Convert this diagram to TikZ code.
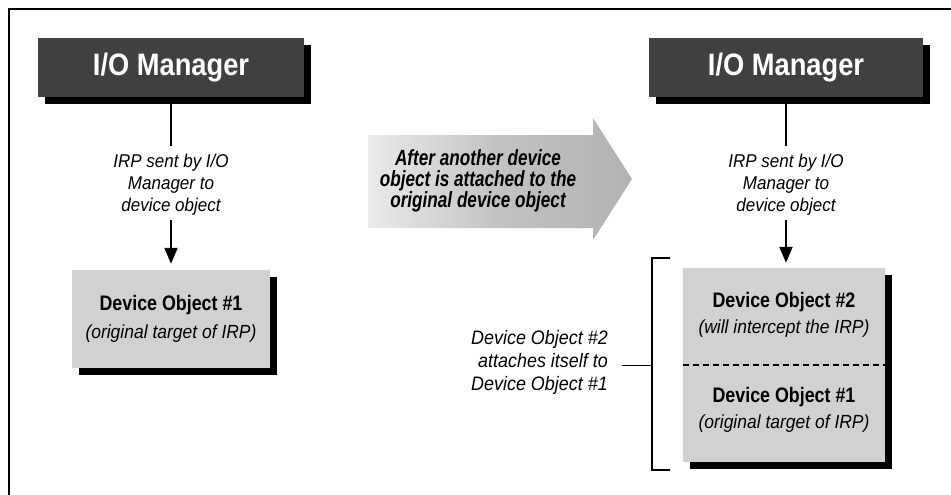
\documentclass[tikz,border=0pt]{standalone}
\usepackage{fontspec}
\setmainfont{Liberation Sans}
\newfontfamily\labfont{Liberation Sans}[FakeStretch=0.92]
\newfontfamily\boxfont{Liberation Sans}[FakeStretch=0.85]
\newfontfamily\iomfont{Liberation Sans}[FakeStretch=0.88]
\newfontfamily\midfont{Liberation Sans}[FakeStretch=0.78]
\newcommand\subtxt[1]{{\labfont\mdseries\itshape\fontsize{19}{22}\selectfont #1}}
\usetikzlibrary{arrows.meta,shadows}
\begin{document}
\begin{tikzpicture}[x=1pt,y=-1pt,
  solidshadow/.style={general shadow={fill=black, shadow xshift=7pt, shadow yshift=-7pt}},
  iombox/.style={fill=black!75, minimum width=266pt, minimum height=59pt, inner sep=0pt,
    text=white, font=\iomfont\bfseries\fontsize{31}{31}\selectfont, solidshadow},
  devbox/.style={fill=black!18, minimum width=198pt, inner sep=0pt, solidshadow},
  dtext/.style={align=center, inner sep=0pt, font=\boxfont\bfseries\fontsize{21}{25}\selectfont},
  lab/.style={align=center, inner sep=0pt, font=\labfont\itshape\fontsize{18.5}{22}\selectfont},
  conn/.style={line width=2.2pt},
  arr/.style={line width=2.2pt, -{Triangle[width=13pt,length=16pt]}},
]
\useasboundingbox (0,0) rectangle (951,495);
% frame
\draw[line width=2pt] (951,9) -- (9,9) -- (9,495);

% left column
\node[iombox] (iom1) at (171,67.5) {I/O Manager};
\node[lab] (lab1) at (171,185) {IRP sent by I/O\\Manager to\\device object};
\node[devbox, minimum height=98pt] (dev1) at (171,319) {};
\node[dtext] at (dev1) {Device Object \#1\\[3pt]\subtxt{(original target of IRP)}};
\draw[conn, shorten >=8pt] (iom1) -- (lab1);
\draw[arr, shorten <=4pt, shorten >=6pt] (lab1) -- (dev1);

% middle arrow
\shade[left color=black!8, right color=black!30, middle color=black!24]
  (368,135) -- (593,135) -- (593,118) -- (632,179) -- (593,240) -- (593,228) -- (368,228) -- cycle;
\node[align=center, inner sep=0pt, font=\midfont\bfseries\itshape\fontsize{22}{21}\selectfont] (mid) at (478,181)
  {After another device\\object is attached to the\\original device object};

% right column
\node[iombox, minimum width=274pt] (iom2) at (786,67.5) {I/O Manager};
\node[lab] (lab2) at (786,185) {IRP sent by I/O\\Manager to\\device object};
\node[devbox, minimum width=202pt, minimum height=194pt] (stack) at (784,365) {};
\draw[line width=1.3pt, dash pattern=on 6pt off 4pt] (stack.west) -- (stack.east);
\node[dtext] (d2) at (784,315) {Device Object \#2\\[1pt]\subtxt{(will intercept the IRP)}};
\node[dtext] (d1b) at (784,410) {Device Object \#1\\[1pt]\subtxt{(original target of IRP)}};
\draw[conn, shorten >=8pt] (iom2) -- (lab2);
\draw[arr, shorten <=4pt, shorten >=5pt] (lab2) -- (stack.north -| lab2);

% bracket
\coordinate (bt) at (670,258);
\coordinate (bb) at (670,470);
\coordinate (bm) at (652,365);
\draw[line width=1.4pt] (bt) -- (bt -| bm) -- (bb -| bm) -- (bb);
\node[lab, align=right, anchor=east, font=\labfont\itshape\fontsize{19.5}{23}\selectfont] (lab3) at (608,362)
  {Device Object \#2\\attaches itself to\\Device Object \#1};
\draw[line width=0.9pt, shorten <=14pt] (bm -| lab3.east) -- (bm);
\end{tikzpicture}
\end{document}
